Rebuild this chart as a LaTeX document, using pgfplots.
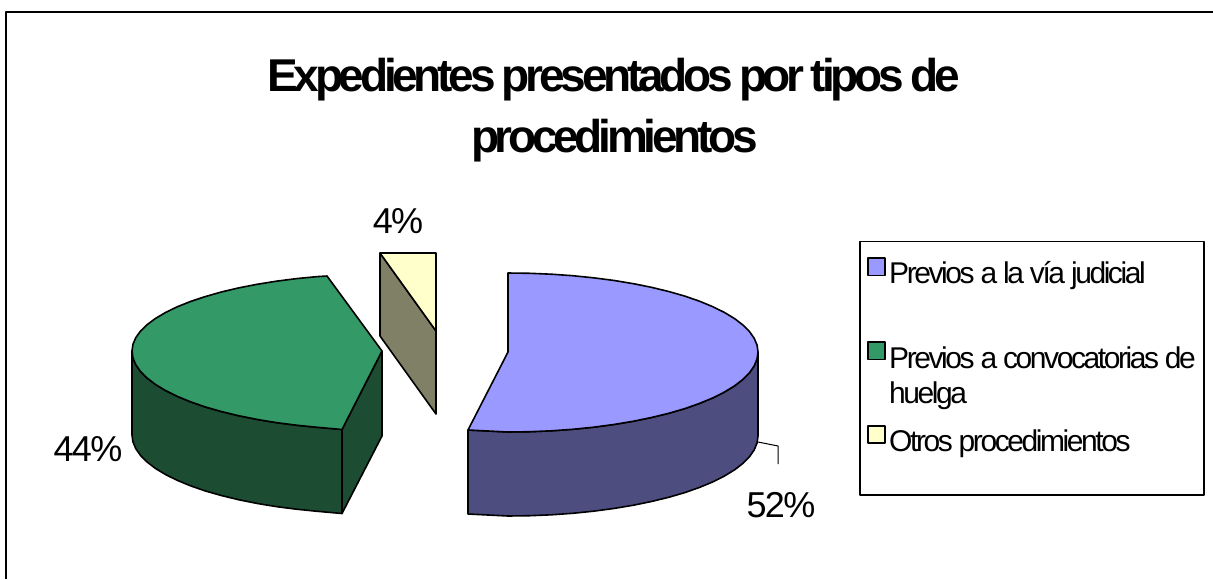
\documentclass[border=0pt]{standalone}
\usepackage{pgfplots}
\pgfplotsset{compat=1.18}
\usepackage{fontspec}
\setmainfont{Liberation Sans}
\newfontfamily\titlefont[LetterSpace=-9.3,WordSpace=0.75,BoldFont={Liberation Sans Bold}]{Liberation Sans}
\newfontfamily\lblfont[LetterSpace=-8.1]{Liberation Sans}
\newfontfamily\numfont[LetterSpace=-4.5]{Liberation Sans}
\definecolor{cblue}{HTML}{9999FF}
\definecolor{cblueS}{HTML}{4D4D80}
\definecolor{cgreen}{HTML}{339966}
\definecolor{cgreenS}{HTML}{1C4D33}
\definecolor{cyel}{HTML}{FFFFCC}
\definecolor{cyelS}{HTML}{808066}
\begin{document}
\begin{tikzpicture}
\path[use as bounding box] (0,0) rectangle (1213pt,579pt);
\begin{axis}[anchor=south west,at={(0,0)},scale only axis,width=1213pt,height=579pt,
  xmin=0,xmax=1213,ymin=0,ymax=579,y dir=reverse,hide axis,clip=false]
\pgfplotsset{every axis plot/.append style={line width=1.6pt,draw=black,line join=round}}
% frame
\addplot[line width=2pt,mark=none] coordinates {(6,579) (6,12) (1213,12)};
% green outer side
\addplot[fill=cgreenS,mark=none] coordinates {
(132,351) (132.95,357.9) (135.8,364.7) (140.5,371.4) (147.1,378) (155.4,384.4) (165.5,390.5) (177.2,396.3) (190.5,401.8) (205.2,406.9) (221.3,411.5) (238.6,415.7) (257,419.4) (276.3,422.6) (296.5,425.2) (317.3,427.3) (342,429.5)
(342,513.5) (317.3,511.3) (296.5,509.2) (276.3,506.6) (257,503.4) (238.6,499.7) (221.3,495.5) (205.2,490.9) (190.5,485.8) (177.2,480.3) (165.5,474.5) (155.4,468.4) (147.1,462) (140.5,455.4) (135.8,448.7) (132.95,441.9) (132,435)} --cycle;
% green inner side
\addplot[fill=cgreenS,mark=none] coordinates {(342,429.5) (382,351) (382,436) (342,513.5)} --cycle;
% green top
\addplot[fill=cgreen,mark=none] coordinates {
(382,351) (327,276) (317.3,276.6) (296.5,278.6) (276.3,281.2) (257,284.3) (238.6,287.9) (221.3,292) (205.2,296.6) (190.5,301.5) (177.2,306.8) (165.5,312.5) (155.4,318.5) (147.1,324.7) (140.5,331.1) (135.8,337.6) (132.95,344.3) (132,351)
(132.95,357.9) (135.8,364.7) (140.5,371.4) (147.1,378) (155.4,384.4) (165.5,390.5) (177.2,396.3) (190.5,401.8) (205.2,406.9) (221.3,411.5) (238.6,415.7) (257,419.4) (276.3,422.6) (296.5,425.2) (317.3,427.3) (342,429.5)} --cycle;
% blue side
\addplot[fill=cblueS,mark=none] coordinates {
(758,352) (757.05,359) (754.2,365.9) (749.5,372.7) (742.9,379.4) (734.6,385.8) (724.5,392) (712.8,397.9) (699.5,403.4) (684.8,408.6) (668.7,413.3) (651.4,417.5) (633,421.3) (613.7,424.5) (593.5,427.2) (572.7,429.3) (551.4,430.8) (529.8,431.7) (508,432) (468,430)
(468,514) (508,516) (529.8,515.7) (551.4,514.8) (572.7,513.3) (593.5,511.2) (613.7,508.5) (633,505.3) (651.4,501.5) (668.7,497.3) (684.8,492.6) (699.5,487.4) (712.8,481.9) (724.5,476) (734.6,469.8) (742.9,463.4) (749.5,456.7) (754.2,449.9) (757.05,443) (758,436)} --cycle;
% blue top
\addplot[fill=cblue,mark=none] coordinates {
(508,352) (508,273) (529.8,273.3) (551.4,274.2) (572.7,275.7) (593.5,277.8) (613.7,280.4) (633,283.6) (651.4,287.3) (668.7,291.5) (684.8,296.1) (699.5,301.2) (712.8,306.7) (724.5,312.5) (734.6,318.6) (742.9,325) (749.5,331.6) (754.2,338.3) (757.05,345.1) (758,352)
(757.05,359) (754.2,365.9) (749.5,372.7) (742.9,379.4) (734.6,385.8) (724.5,392) (712.8,397.9) (699.5,403.4) (684.8,408.6) (668.7,413.3) (651.4,417.5) (633,421.3) (613.7,424.5) (593.5,427.2) (572.7,429.3) (551.4,430.8) (529.8,431.7) (508,432) (468,430)} --cycle;
% yellow side and top
\addplot[fill=cyelS,mark=none] coordinates {(380,253) (436,331) (436,414) (380,336)} --cycle;
\addplot[fill=cyel,mark=none] coordinates {(380,253) (436,253) (436,331)} --cycle;
% leader line
\addplot[line width=1pt,mark=none] coordinates {(758,442) (778,446) (778,464)};
% legend box
\addplot[fill=white,mark=none] coordinates {(860,241.5) (1204,241.5) (1204,495) (860,495)} --cycle;
\addplot[fill=cblue,mark=none] coordinates {(868,258) (885,258) (885,275.5) (868,275.5)} --cycle;
\addplot[fill=cgreen,mark=none] coordinates {(868,342) (885,342) (885,359.5) (868,359.5)} --cycle;
\addplot[fill=cyel,mark=none] coordinates {(868,426) (885,426) (885,443) (868,443)} --cycle;
% text
\node[anchor=base,inner sep=0pt] at (axis cs:613.5,91) {\titlefont\bfseries\fontsize{46}{46}\selectfont Expedientes presentados por tipos de};
\node[anchor=base,inner sep=0pt] at (axis cs:614.5,152) {\titlefont\bfseries\fontsize{46}{46}\selectfont procedimientos};
\node[anchor=base west,inner sep=0pt] at (axis cs:889,283.5) {\lblfont\fontsize{30}{30}\selectfont Previos a la vía judicial};
\node[anchor=base west,inner sep=0pt] at (axis cs:889,368) {\lblfont\fontsize{30}{30}\selectfont Previos a convocatorias de};
\node[anchor=base west,inner sep=0pt] at (axis cs:889,403) {\lblfont\fontsize{30}{30}\selectfont huelga};
\node[anchor=base west,inner sep=0pt] at (axis cs:889,451.5) {\lblfont\fontsize{30}{30}\selectfont Otros procedimientos};
\node[anchor=base,inner sep=0pt] at (axis cs:398,233) {\numfont\fontsize{36}{36}\selectfont 4\%};
\node[anchor=base,inner sep=0pt] at (axis cs:781,517) {\numfont\fontsize{36}{36}\selectfont 52\%};
\node[anchor=base,inner sep=0pt] at (axis cs:88,461) {\numfont\fontsize{36}{36}\selectfont 44\%};
\end{axis}
\end{tikzpicture}
\end{document}
